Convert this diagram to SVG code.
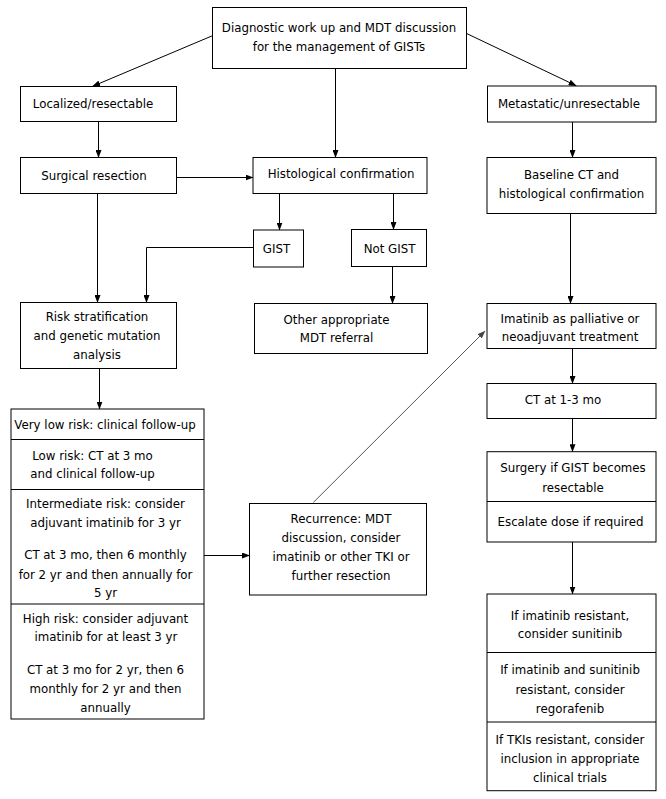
<svg xmlns="http://www.w3.org/2000/svg" width="666" height="799" viewBox="0 0 666 799">
<defs>
<marker id="ah" markerWidth="8" markerHeight="6" refX="7.5" refY="3" orient="auto" markerUnits="userSpaceOnUse">
<path d="M0,0 L8,3 L0,6 z" fill="#000"/>
</marker>
<marker id="ahg" markerWidth="8" markerHeight="6" refX="7.5" refY="3" orient="auto" markerUnits="userSpaceOnUse">
<path d="M0,0 L8,3 L0,6 z" fill="#444"/>
</marker>
<style>
rect{fill:#fff;stroke:#000;stroke-width:1}
.div{stroke:#000;stroke-width:1}
text{font-family:"DejaVu Sans","Liberation Sans",sans-serif;font-size:11.8px;fill:#000;text-anchor:middle}
.c{fill:none;stroke:#000;stroke-width:1;marker-end:url(#ah)}
.g{fill:none;stroke:#555;stroke-width:1;marker-end:url(#ahg)}
</style>
</defs>
<rect x="0" y="0" width="666" height="799" style="fill:#fff;stroke:none"/>
<g id="connectors">
<path class="c" d="M212.5,35.7 L92.6,86.3"/>
<path class="c" d="M466.2,33.3 L576.2,85.7"/>
<path class="c" d="M335.5,68.5 L335.5,157.5"/>
<path class="c" d="M98.5,121.5 L98.5,157.5"/>
<path class="c" d="M572.5,122 L572.5,157.5"/>
<path class="c" d="M176.5,177.5 L253,177.5"/>
<path class="c" d="M279.5,193.5 L279.5,230"/>
<path class="c" d="M393.5,193.5 L393.5,229.5"/>
<path class="c" d="M97.5,193.5 L97.5,302.5"/>
<path class="c" d="M253.5,247.5 H146.5 V302.5"/>
<path class="c" d="M392.5,266.5 L392.5,303.5"/>
<path class="c" d="M99.5,368.5 L99.5,409"/>
<path class="c" d="M204,555.5 L249.5,555.5"/>
<path class="g" d="M313.3,502.5 L485,331"/>
<path class="c" d="M570.5,213.5 L570.5,303.5"/>
<path class="c" d="M572.5,348.5 L572.5,383.5"/>
<path class="c" d="M572.5,418.5 L572.5,451.7"/>
<path class="c" d="M572.5,542 L572.5,594"/>
</g>
<g id="n-top"><rect x="212.5" y="7.5" width="254" height="61"/>
<text x="339" y="32">Diagnostic work up and MDT discussion</text>
<text x="339" y="51">for the management of GISTs</text></g>
<g id="n-localized"><rect x="20.5" y="86.5" width="156" height="35"/>
<text x="93" y="107.5">Localized/resectable</text></g>
<g id="n-metastatic"><rect x="487.5" y="86" width="168.5" height="36"/>
<text x="569" y="107.5">Metastatic/unresectable</text></g>
<g id="n-surgical"><rect x="20.5" y="157.5" width="156" height="36"/>
<text x="94" y="180">Surgical resection</text></g>
<g id="n-histological"><rect x="253" y="157.5" width="174" height="36"/>
<text x="341" y="178">Histological confirmation</text></g>
<g id="n-baseline"><rect x="487" y="157.5" width="169" height="56"/>
<text x="571.5" y="179">Baseline CT and</text>
<text x="571.5" y="197.5">histological confirmation</text></g>
<g id="n-gist"><rect x="253.5" y="230" width="50" height="37"/>
<text x="276.5" y="253">GIST</text></g>
<g id="n-notgist"><rect x="351.5" y="229.5" width="75" height="37"/>
<text x="389.5" y="252.5">Not GIST</text></g>
<g id="n-risk"><rect x="20.5" y="302.5" width="156" height="66"/>
<text x="97" y="321">Risk stratification</text>
<text x="97" y="340">and genetic mutation</text>
<text x="97" y="358.5">analysis</text></g>
<g id="n-other"><rect x="254.5" y="303.5" width="173" height="50"/>
<text x="336.5" y="323.5">Other appropriate</text>
<text x="336.5" y="342">MDT referral</text></g>
<g id="n-riskgroups"><rect x="11" y="409" width="193" height="310"/>
<line class="div" x1="11" y1="439.5" x2="204" y2="439.5"/>
<line class="div" x1="11" y1="489.5" x2="204" y2="489.5"/>
<line class="div" x1="11" y1="604" x2="204" y2="604"/>
<text x="105" y="428.5">Very low risk: clinical follow-up</text>
<text x="92.5" y="460">Low risk: CT at 3 mo</text>
<text x="92.5" y="477.5">and clinical follow-up</text>
<text x="105.5" y="507.5">Intermediate risk: consider</text>
<text x="105.5" y="526.5">adjuvant imatinib for 3 yr</text>
<text x="105.5" y="559">CT at 3 mo, then 6 monthly</text>
<text x="105.5" y="578.5">for 2 yr and then annually for</text>
<text x="105.5" y="597">5 yr</text>
<text x="105.5" y="622.5">High risk: consider adjuvant</text>
<text x="106" y="641">imatinib for at least 3 yr</text>
<text x="105.5" y="674">CT at 3 mo for 2 yr, then 6</text>
<text x="105.5" y="693">monthly for 2 yr and then</text>
<text x="105.5" y="712">annually</text></g>
<g id="n-recurrence"><rect x="249.5" y="503.5" width="177" height="91.5"/>
<text x="341" y="523">Recurrence: MDT</text>
<text x="341" y="542">discussion, consider</text>
<text x="341" y="561">imatinib or other TKI or</text>
<text x="341" y="580">further resection</text></g>
<g id="n-imatinib"><rect x="487" y="303.5" width="169" height="45"/>
<text x="570" y="322.5">Imatinib as palliative or</text>
<text x="570" y="341">neoadjuvant treatment</text></g>
<g id="n-ct"><rect x="487" y="383.5" width="169" height="35"/>
<text x="563" y="403.5">CT at 1-3 mo</text></g>
<g id="n-surgery"><rect x="487" y="451.7" width="169" height="90.3"/>
<line class="div" x1="487" y1="501.5" x2="656" y2="501.5"/>
<text x="573" y="472">Surgery if GIST becomes</text>
<text x="573" y="491.5">resectable</text>
<text x="570.5" y="525.5">Escalate dose if required</text></g>
<g id="n-tki"><rect x="487" y="594" width="169" height="196.7"/>
<line class="div" x1="487" y1="652.5" x2="656" y2="652.5"/>
<line class="div" x1="487" y1="722" x2="656" y2="722"/>
<text x="570" y="620">If imatinib resistant,</text>
<text x="570" y="637.5">consider sunitinib</text>
<text x="570" y="674">If imatinib and sunitinib</text>
<text x="570" y="693.5">resistant, consider</text>
<text x="570" y="712.5">regorafenib</text>
<text x="570" y="743.5">If TKIs resistant, consider</text>
<text x="570" y="762.5">inclusion in appropriate</text>
<text x="570" y="781.5">clinical trials</text></g>
</svg>
